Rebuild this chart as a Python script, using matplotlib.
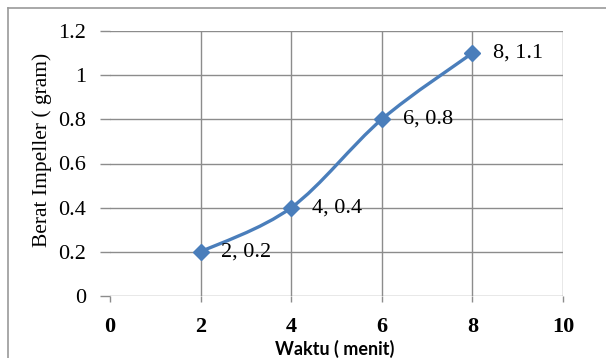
import numpy as np
import matplotlib
matplotlib.use("Agg")
import matplotlib.pyplot as plt
from matplotlib.path import Path
from matplotlib.patches import PathPatch
from matplotlib.lines import Line2D

# Data
waktu = [2, 4, 6, 8]
berat = [0.2, 0.4, 0.8, 1.1]
x_ticks = [0, 2, 4, 6, 8, 10]
y_ticks = [0, 0.2, 0.4, 0.6, 0.8, 1, 1.2]
y_tick_labels = ["0", "0.2", "0.4", "0.6", "0.8", "1", "1.2"]

line_color = "#4A7EBB"
grid_color = "#8C8C8C"
font = "Liberation Serif"


def smooth_path(xs, ys):
    """Excel-like smoothed line: Catmull-Rom converted to cubic Bezier segments."""
    pts = np.column_stack([xs, ys]).astype(float)
    verts = [pts[0]]
    codes = [Path.MOVETO]
    n = len(pts)
    for i in range(n - 1):
        p0 = pts[i - 1] if i > 0 else pts[i]
        p1 = pts[i]
        p2 = pts[i + 1]
        p3 = pts[i + 2] if i + 2 < n else pts[i + 1]
        c1 = p1 + (p2 - p0) / 6.0
        c2 = p2 - (p3 - p1) / 6.0
        verts += [c1, c2, p2]
        codes += [Path.CURVE4] * 3
    return Path(verts, codes)


fig = plt.figure(figsize=(6.06, 3.58), dpi=100)
ax = fig.add_axes([110 / 606, 1 - 296 / 358, 453 / 606, 265 / 358])

# chart frame (top and left edges visible)
fig.add_artist(Line2D([8 / 606, 1.0], [1 - 8 / 358, 1 - 8 / 358],
                      transform=fig.transFigure, color="#9A9A9A", lw=1.2))
fig.add_artist(Line2D([8 / 606, 8 / 606], [1 - 8 / 358, 0.0],
                      transform=fig.transFigure, color="#9A9A9A", lw=1.2))

ax.set_xlim(0, 10)
ax.set_ylim(0, 1.2)
ax.set_xticks(x_ticks)
ax.set_yticks(y_ticks)
ax.set_yticklabels(y_tick_labels)

for s in ax.spines.values():
    s.set_visible(False)

ax.grid(True, color=grid_color, linewidth=1.0)
ax.set_axisbelow(True)
# no vertical gridline at x = 0
ax.get_xgridlines()[0].set_visible(False)

ax.tick_params(axis="y", length=7, color=grid_color, width=1.0, pad=10,
               labelsize=16)
ax.tick_params(axis="x", length=4, color=grid_color, width=1.0, pad=11,
               labelsize=16, direction="out")
for lbl in ax.get_xticklabels():
    lbl.set_fontfamily(font)
    lbl.set_fontweight("bold")
for lbl in ax.get_yticklabels():
    lbl.set_fontfamily(font)

# smoothed line + markers
ax.add_patch(PathPatch(smooth_path(waktu, berat), facecolor="none",
                       edgecolor=line_color, lw=2.4, zorder=3))
ax.plot(waktu, berat, linestyle="none", marker="D", markersize=8,
        color=line_color, zorder=4, clip_on=False)

for x, y in zip(waktu, berat):
    ax.annotate(f"{x}, {y:g}", (x, y), xytext=(15, 0), textcoords="offset points",
                va="center", ha="left", fontsize=16, fontfamily=font)

ax.set_ylabel("Berat Impeller ( gram)", fontsize=15.5, fontfamily=font,
              va="center")
ax.yaxis.set_label_coords((42 - 110) / 453, (296 - 150) / 265)
ax.set_xlabel("Waktu ( menit)", fontsize=13, fontfamily="Lato",
              fontweight="bold", va="center")
ax.xaxis.set_label_coords((335 - 110) / 453, (296 - 349) / 265)

fig.savefig("out.png", dpi=100)
